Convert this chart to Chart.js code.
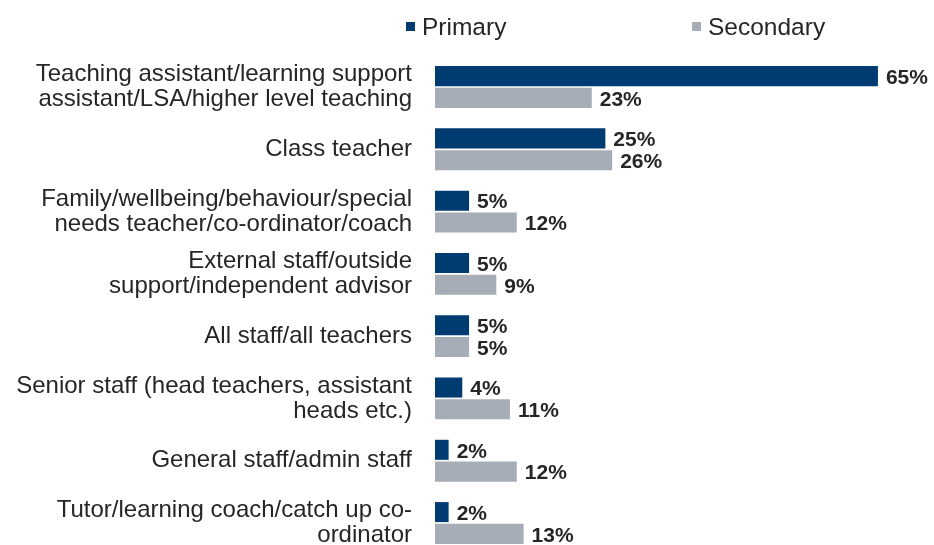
<!DOCTYPE html>
<html>
<head>
<meta charset="utf-8">
<script src="https://cdn.jsdelivr.net/npm/chart.js@4/dist/chart.umd.min.js"></script>
<style>
  html, body { margin: 0; padding: 0; background: #fff; overflow: hidden; }
  #wrap { width: 934px; height: 545px; position: relative; }
</style>
</head>
<body>
<div id="wrap"><canvas id="c"></canvas></div>
<script>
const categories = [
  ["Teaching assistant/learning support", "assistant/LSA/higher level teaching"],
  "Class teacher",
  ["Family/wellbeing/behaviour/special", "needs teacher/co-ordinator/coach"],
  ["External staff/outside", "support/independent advisor"],
  "All staff/all teachers",
  ["Senior staff (head teachers, assistant", "heads etc.)"],
  "General staff/admin staff",
  ["Tutor/learning coach/catch up co-", "ordinator"]
];
const seriesNames = ["Primary", "Secondary"];
const primaryValues = [65, 25, 5, 5, 5, 4, 2, 2];
const secondaryValues = [23, 26, 12, 9, 5, 11, 12, 13];

const COLORS = ["#003c71", "#a6adb6"];
const TEXT = "#262626";
const FONT = "'Liberation Sans', Arial, sans-serif";

const valueLabels = {
  id: "valueLabels",
  afterDatasetsDraw(chart) {
    const ctx = chart.ctx;
    ctx.save();
    ctx.font = "bold 21px " + FONT;
    ctx.fillStyle = TEXT;
    ctx.textAlign = "left";
    ctx.textBaseline = "middle";
    chart.data.datasets.forEach((ds, di) => {
      const meta = chart.getDatasetMeta(di);
      meta.data.forEach((bar, i) => {
        ctx.fillText(ds.data[i] + "%", bar.x + 8, bar.y + 2);
      });
    });
    ctx.restore();
  }
};

const customLegend = {
  id: "customLegend",
  afterDraw(chart) {
    const ctx = chart.ctx;
    const items = [{x: 406}, {x: 692}];
    ctx.save();
    ctx.font = "24.5px " + FONT;
    ctx.textBaseline = "middle";
    ctx.textAlign = "left";
    chart.data.datasets.forEach((ds, i) => {
      const x = items[i].x;
      ctx.fillStyle = ds.backgroundColor;
      ctx.fillRect(x, 22, 9, 9);
      ctx.fillStyle = TEXT;
      ctx.fillText(ds.label, x + 16, 28);
    });
    ctx.restore();
  }
};

new Chart(document.getElementById("c"), {
  type: "bar",
  data: {
    labels: categories,
    datasets: [
      { label: seriesNames[0], data: primaryValues, backgroundColor: COLORS[0], clip: false,
        categoryPercentage: 0.7, barPercentage: 0.92 },
      { label: seriesNames[1], data: secondaryValues, backgroundColor: COLORS[1], clip: false,
        categoryPercentage: 0.7, barPercentage: 0.92 }
    ]
  },
  options: {
    indexAxis: "y",
    responsive: true,
    maintainAspectRatio: false,
    animation: false,
    layout: { padding: { top: 87, bottom: 22, left: 0, right: 22 } },
    plugins: {
      legend: { display: false },
      tooltip: { enabled: false }
    },
    scales: {
      x: {
        display: false,
        min: 0,
        max: 70
      },
      y: {
        offset: false,
        grid: { display: false, drawTicks: false },
        border: { display: false },
        ticks: {
          color: TEXT,
          padding: 23,
          font: { family: FONT, size: 24, lineHeight: 1.04 }
        },
        afterFit(scale) {
          scale.width = 435;
          scale.paddingTop = 0;
          scale.paddingBottom = 0;
        }
      }
    }
  },
  plugins: [valueLabels, customLegend]
});
</script>
</body>
</html>
